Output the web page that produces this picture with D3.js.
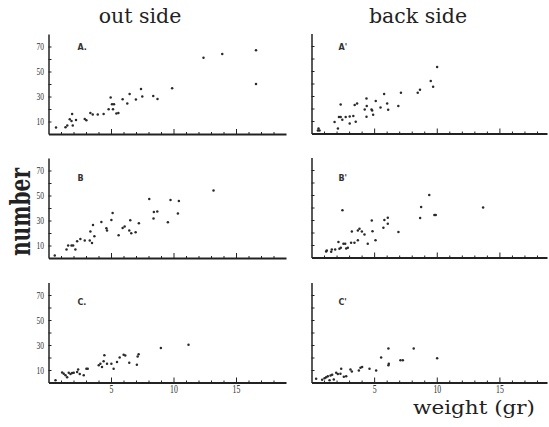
<!DOCTYPE html>
<html>
<head>
<meta charset="utf-8">
<script src="https://cdnjs.cloudflare.com/ajax/libs/d3/7.8.5/d3.min.js"></script>
<style>
    body { margin: 0; background: #fff; }
</style>
</head>
<body>
<div id="chart"></div>
<script>
// weight (gr), number
var outside_a = [
    [0.6, 5.2], [1.36, 5.5], [1.5, 6.8], [1.89, 16.1], [1.7, 11.9], [1.84, 10.5],
    [1.94, 6.8], [2.2, 11.3], [2.9, 12.1], [3.03, 11], [3.35, 16.9], [3.54, 15.6],
    [3.94, 15.6], [4.41, 16.1], [4.81, 19.9], [4.97, 29.2], [5.16, 19.9], [5.08, 23.9],
    [5.24, 23.9], [5.43, 16.4], [5.59, 16.9], [5.93, 27.9], [6.3, 24.4], [6.49, 32.1],
    [6.99, 27.6], [7.4, 36.1], [7.5, 30], [8.38, 30.5], [8.72, 28.1], [9.89, 36.7],
    [12.4, 61], [13.9, 64], [16.6, 67], [16.6, 40]
];
var outside_b = [
    [0.5, 2], [1.44, 6.8], [1.57, 10], [1.84, 10], [1.97, 10], [2.15, 6.8],
    [2.29, 13.5], [2.55, 15.3], [2.9, 14], [3.3, 14], [3.35, 21.2], [3.48, 12.1],
    [3.56, 26.5], [3.67, 17.5], [4.23, 28.9], [4.63, 23.9], [4.68, 22], [5.03, 30.5],
    [5.13, 36.1], [5.61, 18.3], [5.93, 24.1], [6.09, 25.2], [6.54, 30.3], [6.46, 22],
    [6.62, 19.9], [6.97, 20.7], [7.23, 27.9], [8.06, 47.3], [8.4, 31.6], [8.43, 36.9],
    [8.7, 37.2], [9.55, 28.7], [9.76, 46.5], [10.35, 35.6], [10.43, 45.7], [13.2, 54]
];
var outside_c = [
    [0.56, 1.9], [1.09, 8.1], [1.22, 7], [1.36, 5.9], [1.49, 4.3], [1.62, 7.8],
    [1.76, 6.8], [1.89, 7.6], [2.02, 7.8], [2.29, 8.4], [2.37, 10.5], [2.5, 6.8],
    [2.82, 5.9], [3.03, 11.1], [3.14, 11.1], [4.02, 13.8], [4.15, 15.1], [4.28, 12.4],
    [4.47, 21.9], [4.41, 17], [4.68, 15.1], [5.03, 15.1], [5.21, 11.1], [5.48, 16.5],
    [5.69, 20], [6.01, 22.2], [6.14, 21.6], [6.46, 15.9], [7.07, 14.3], [7.13, 20.8],
    [7.21, 22.7], [8.99, 27.6], [11.2, 30.2]
];
var backside_a = [
    [0.56, 4.1], [0.51, 2.5], [0.64, 2.5], [1.84, 9.2], [2.11, 4.1], [2.19, 13.2],
    [2.33, 13.2], [2.33, 23.3], [2.46, 11.1], [2.73, 13.2], [3.05, 13.7], [3.05, 8.1],
    [3.34, 14], [3.45, 22.8], [3.64, 24.1], [3.53, 9.5], [4.25, 19.3], [4.39, 28.1],
    [4.41, 22], [4.39, 13.5], [4.79, 19.3], [4.84, 18.5], [4.92, 15.1], [5.13, 26],
    [5.51, 20.9], [5.8, 31.6], [6.04, 24.1], [6.12, 19.1], [6.93, 22], [7.14, 32.7],
    [8.48, 32.7], [8.66, 35.1], [9.52, 42], [9.71, 37.5], [10.03, 53.2]
];
var backside_b = [
    [1.17, 4.9], [1.22, 5.7], [1.57, 4.6], [1.62, 6.5], [1.89, 6.5], [2.15, 12.4],
    [2.23, 7], [2.34, 7.8], [2.55, 11.1], [2.69, 11.1], [2.77, 7.3], [2.9, 7.8],
    [3.16, 11.9], [3.43, 11.9], [3.7, 13.8], [2.47, 37.8], [3.22, 20.8], [3.7, 21.6],
    [3.83, 23], [4.02, 20.8], [4.23, 18.4], [4.49, 11.1], [4.81, 29.7], [4.87, 21.1],
    [5.11, 13.8], [5.74, 23.8], [5.82, 30], [6.09, 31.9], [6.09, 27], [6.94, 20.5],
    [8.75, 40.5], [8.67, 31.6], [9.4, 50], [9.81, 34.1], [9.92, 34.1], [13.7, 40]
];
var backside_c = [
    [0.37, 3], [0.85, 2.2], [1.04, 3.5], [1.17, 4.3], [1.3, 5.1], [1.44, 1.9],
    [1.52, 5.7], [1.65, 6.2], [1.78, 2.4], [1.97, 7.8], [2.1, 6.8], [2.31, 7],
    [2.37, 11.1], [2.58, 4.6], [2.77, 5.1], [3.11, 10.5], [3.22, 8.9], [3.78, 9.7],
    [3.91, 11.9], [4.04, 12.4], [4.63, 11.1], [5.16, 9.7], [5.56, 20], [6.14, 27.3],
    [6.17, 15.1], [6.14, 13.8], [7.1, 17.8], [7.29, 17.8], [8.16, 27.3], [10.03, 19.5]
];

var column_titles = ['out side', 'back side'];
var panel_labels  = [['A.', 'B', 'C.'], ["A'", "B'", "C'"]];
var y_ticks       = [10, 20, 30, 40, 50, 60, 70];
var y_tick_labels = [10, 30, 50, 70];
var x_ticks       = d3.range(1, 19);
var x_tick_labels = [5, 10, 15];

var panel_data = [
    [outside_a, outside_b, outside_c],
    [backside_a, backside_b, backside_c]
];

var chart_width  = 549;
var chart_height = 427;
var ink          = '#222';

var svg = d3.select('#chart')
    .append('svg')
    .attr('width', chart_width)
    .attr('height', chart_height);

// column geometry
var columns = [
    {left: 48.5, right: 286, x_max: 19, title_x: 140, label_dx: 29},
    {left: 311.5, right: 547, x_max: 18.8, title_x: 418, label_dx: 27}
];
var baselines = [[134, 258, 382.5], [133.5, 257.5, 382.5]];
var label_y   = [50, 181, 305];

columns.forEach(function(col, ci){
    svg.append('text')
        .text(column_titles[ci])
        .attr('x', col.title_x)
        .attr('y', 23)
        .attr('text-anchor', 'middle')
        .attr('font-family', 'DejaVu Serif')
        .attr('font-size', 20.5)
        .attr('fill', ink);

    for (var ri = 0; ri < 3; ri++) {
        var base = baselines[ci][ri];
        var bottom_row = ri === 2;

        var x_scale = d3.scaleLinear()
            .domain([0, col.x_max])
            .range([col.left, col.right]);
        var y_scale = d3.scaleLinear()
            .domain([0, 80])
            .range([base, base - 100]);

        var g = svg.append('g');

        // x axis, ticks pointing up, long ones at 5s
        var x_axis = d3.axisBottom(x_scale)
            .tickValues(x_ticks)
            .tickSize(-2)
            .tickSizeOuter(0)
            .tickPadding(2)
            .tickFormat(function(d){
                return bottom_row && x_tick_labels.indexOf(d) >= 0 ? d : '';
            });
        var xg = g.append('g')
            .attr('transform', 'translate(0,' + base + ')')
            .call(x_axis);
        xg.select('.domain').attr('stroke', ink).attr('stroke-width', 2);
        xg.selectAll('.tick line')
            .attr('stroke', ink)
            .attr('y2', function(d){ return d % 5 === 0 ? -5 : -2; });
        // tall narrow digits like the scan
        xg.selectAll('.tick text')
            .attr('font-family', 'Liberation Serif')
            .attr('font-size', 12)
            .attr('transform', 'scale(0.65,1)')
            .attr('fill', '#333');

        // y axis, ticks pointing in
        var y_axis = d3.axisLeft(y_scale)
            .tickValues(y_ticks)
            .tickSize(-3)
            .tickSizeOuter(0)
            .tickPadding(4)
            .tickFormat(function(d){
                return ci === 0 && y_tick_labels.indexOf(d) >= 0 ? d : '';
            });
        var yg = g.append('g')
            .attr('transform', 'translate(' + col.left + ',0)')
            .call(y_axis);
        yg.select('.domain').attr('stroke', ink).attr('stroke-width', 1.5);
        yg.selectAll('.tick line').attr('stroke', ink);
        yg.selectAll('.tick text')
            .attr('font-family', 'Liberation Serif')
            .attr('font-size', 10)
            .attr('x', -6)
            .attr('transform', 'scale(0.75,1)')
            .attr('fill', '#333');

        // panel letter
        g.append('text')
            .text(panel_labels[ci][ri])
            .attr('x', col.left + col.label_dx)
            .attr('y', label_y[ri])
            .attr('font-family', 'DejaVu Sans')
            .attr('font-weight', 'bold')
            .attr('font-size', 8)
            .attr('fill', '#333');

        // points
        g.selectAll('circle')
            .data(panel_data[ci][ri])
            .enter()
            .append('circle')
            .attr('cx', function(d){ return x_scale(d[0]); })
            .attr('cy', function(d){ return y_scale(d[1]); })
            .attr('r', 1.25)
            .attr('fill', '#2a2a2a');
    }
});

// axis titles
svg.append('text')
    .text('number')
    .attr('transform', 'translate(30,212) rotate(-90)')
    .attr('text-anchor', 'middle')
    .attr('font-family', 'DejaVu Serif')
    .attr('font-weight', 'bold')
    .attr('font-size', 27)
    .attr('textLength', 88)
    .attr('lengthAdjust', 'spacingAndGlyphs')
    .attr('fill', ink);

svg.append('text')
    .text('weight (gr)')
    .attr('x', 474)
    .attr('y', 414)
    .attr('text-anchor', 'middle')
    .attr('font-family', 'DejaVu Serif')
    .attr('font-size', 18)
    .attr('textLength', 122)
    .attr('lengthAdjust', 'spacingAndGlyphs')
    .attr('fill', ink);
</script>
</body>
</html>
